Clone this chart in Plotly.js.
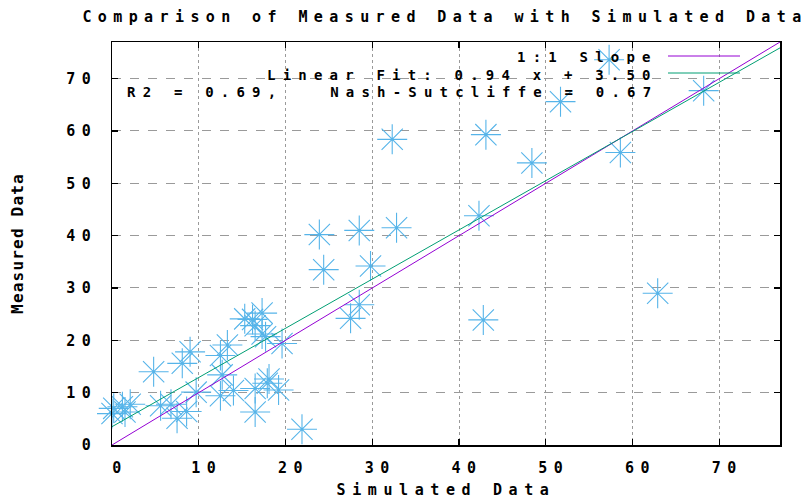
<!DOCTYPE html>
<html>
<head>
<meta charset="utf-8">
<script src="https://cdn.plot.ly/plotly-3.0.1.min.js"></script>
<style>
  html, body { margin: 0; padding: 0; background: #fff; }
  #chart { width: 809px; height: 499px; }
  .xtick text, .ytick text, .xtitle { letter-spacing: 6.6px; }
  .annotation-text { letter-spacing: 7.2px; }
  .gtitle { letter-spacing: 6.4px; }
  .ytitle { letter-spacing: 1.2px; }
</style>
</head>
<body>
<div id="chart"></div>
<script>
// Simulated (x) vs Measured (y) data points
const simulated = [57.3, 68.2, 51.7, 43.1, 32.3, 58.6, 48.4, 42.3, 32.8, 28.5,
                   23.9, 29.8, 24.4, 62.9, 28.5, 27.5, 42.8, 19.6, 15.3, 16.2,
                   17.3, 16.5, 17.3, 17.7, 13.3, 12.5, 9.0, 8.1, 4.8, 12.7,
                   18.1, 17.9, 16.5, 19.2, 14.0, 12.5, 9.7, 16.5, 21.9, 6.8,
                   5.6, 7.5, 8.6, 2.1, 1.2, 0.2, 1.5, 0.0];
const measured  = [73.6, 67.7, 65.6, 59.3, 58.4, 55.9, 53.9, 43.8, 41.5, 41.0,
                   40.2, 34.2, 33.5, 29.0, 26.8, 24.2, 23.9, 19.4, 24.1, 24.0,
                   25.2, 22.8, 21.2, 20.7, 19.1, 17.1, 17.8, 15.6, 14.0, 13.4,
                   12.6, 11.8, 10.8, 10.5, 10.4, 9.4, 10.1, 6.3, 3.0, 7.8,
                   7.5, 5.1, 6.4, 7.8, 7.3, 7.0, 6.3, 6.0];

// Reference lines
const lineX = [0, 77];
const oneToOneY = [0, 77];
const fitSlope = 0.94;
const fitIntercept = 3.50;
const fitY = lineX.map(v => fitSlope * v + fitIntercept);

const xTicks = [0, 10, 20, 30, 40, 50, 60, 70];
const yTicks = [0, 10, 20, 30, 40, 50, 60, 70];

const legendLabels = ["1:1 Slope", "Linear Fit: 0.94 x + 3.50", "R2 = 0.69,   Nash-Sutcliffe = 0.67"];

const FONT = "DejaVu Sans Mono";
const plotL = 112, plotR = 780, plotT = 42, plotB = 445;
const W = 809, H = 499;
const px2x = p => (p - plotL) / (plotR - plotL);
const py2y = p => (plotB - p) / (plotB - plotT);

const traces = [
  {
    x: simulated, y: measured, type: 'scatter', mode: 'markers',
    cliponaxis: false, showlegend: false,
    marker: { symbol: 'asterisk-open', size: 25, color: '#56b4e9',
              line: { color: '#56b4e9', width: 1.1 } }
  },
  {
    x: lineX, y: oneToOneY, type: 'scatter', mode: 'lines', showlegend: false,
    line: { color: '#9400d3', width: 1 }
  },
  {
    x: lineX, y: fitY, type: 'scatter', mode: 'lines', showlegend: false,
    line: { color: '#009e73', width: 1 }
  }
];

const axisCommon = {
  range: [0, 77], showline: true, linecolor: '#000', linewidth: 1.5,
  mirror: 'ticks', ticks: 'inside', ticklen: 6, tickwidth: 1.2, tickcolor: '#000',
  showgrid: true, gridcolor: '#9a9a9a', gridwidth: 1, zeroline: false,
  tickfont: { family: FONT, size: 15, color: '#000', weight: 'bold' },
  fixedrange: true
};

const legendRows = [57.5, 74.5, 91.5];
const annotations = legendLabels.map((t, i) => ({
  text: t, xref: 'paper', yref: 'paper', x: px2x(659), y: py2y(legendRows[i]),
  xanchor: 'right', yanchor: 'middle', showarrow: false, align: 'right',
  height: 14, borderpad: 0,
  font: { family: FONT, size: 14, color: '#000', weight: 'bold' }
}));

const sampleColors = ['#9400d3', '#009e73'];
const shapes = sampleColors.map((c, i) => ({
  type: 'line', xref: 'paper', yref: 'paper',
  x0: px2x(668), x1: px2x(740), y0: py2y(legendRows[i] - 1.5), y1: py2y(legendRows[i] - 1.5),
  line: { color: c, width: 1 }
}));

const layout = {
  width: W, height: H,
  margin: { l: plotL, r: W - plotR, t: plotT, b: H - plotB, pad: 0 },
  paper_bgcolor: '#fff', plot_bgcolor: '#fff',
  title: { text: 'Comparison of Measured Data with Simulated Data',
           font: { family: FONT, size: 15, color: '#000', weight: 'bold' },
           x: 445 / W, xref: 'container', xanchor: 'center', y: 1 - 17 / H, yref: 'container', yanchor: 'middle' },
  xaxis: Object.assign({}, axisCommon, {
    tickvals: xTicks, ticktext: xTicks.map(String), griddash: 'dot',
    ticklabelstandoff: 8, ticklabelshift: 8,
    title: { text: 'Simulated Data', standoff: 12,
             font: { family: FONT, size: 15, color: '#000', weight: 'bold' } }
  }),
  yaxis: Object.assign({}, axisCommon, {
    tickvals: yTicks, ticktext: yTicks.map(String), griddash: 'dash',
    ticklabelstandoff: 10,
    title: { text: 'Measured Data', standoff: 38,
             font: { family: FONT, size: 16, color: '#000', weight: 'bold' } }
  }),
  annotations: annotations,
  shapes: shapes,
  showlegend: false
};

Plotly.newPlot('chart', traces, layout, { displayModeBar: false, staticPlot: true });
</script>
</body>
</html>
